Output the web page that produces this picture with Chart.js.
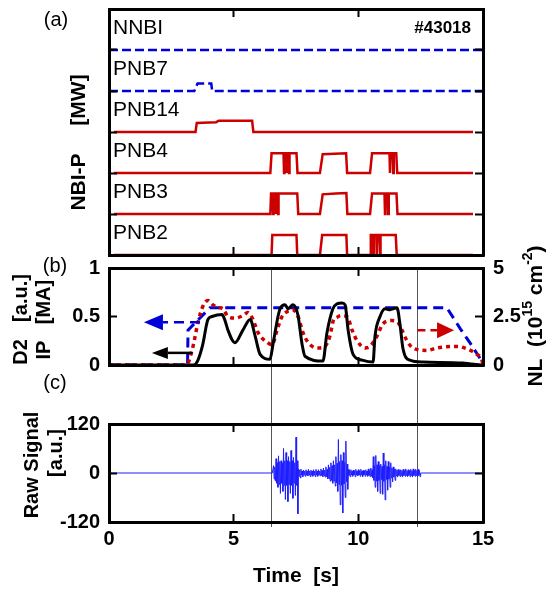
<!DOCTYPE html>
<html lang="es">
<head>
<meta charset="utf-8">
<title>#43018</title>
<script src="https://cdn.jsdelivr.net/npm/chart.js@4.4.1/dist/chart.umd.min.js"></script>
<style>
  html, body { margin: 0; padding: 0; background: #fff; }
  #contenedor { position: relative; width: 558px; height: 589px; overflow: hidden; }
  canvas { position: absolute; left: 0; }
</style>
</head>
<body>
<div id="contenedor">
  <canvas id="graficoA" width="558" height="258" style="top:0"></canvas>
  <canvas id="graficoB" width="558" height="165" style="top:230px"></canvas>
  <canvas id="graficoC" width="558" height="194" style="top:395px"></canvas>
</div>
<script>
// ---- (a) potencia NBI [MW] vs tiempo [s] ----
const filas = ["PNB2", "PNB3", "PNB4", "PNB14", "PNB7", "NNBI"];

const nnbiT = [0, 15];
const nnbiP = [0, 0];
const pnb7T = [0, 3.42, 3.55, 4.1, 4.14, 15];
const pnb7P = [0, 0, 1.8, 1.8, 0, 0];
const pnb14T = [0.2, 3.47, 3.52, 4.3, 4.4, 5.74, 5.79, 14.6];
const pnb14P = [0, 0, 2.2, 2.4, 2.75, 2.75, 0, 0];
const pnb4T = [0.2, 6.47, 6.52, 7.0, 7.02, 7.04, 7.1, 7.12, 7.14, 7.2, 7.22, 7.24, 7.52, 7.56, 8.46, 8.57, 9.51, 9.55, 10.47, 10.55, 11.25, 11.27, 11.29, 11.38, 11.4, 11.42, 11.52, 11.56, 14.6];
const pnb4P = [0, 0, 4.8, 4.8, 0, 4.8, 4.8, 0, 4.8, 4.8, 0, 4.8, 4.8, 0, 0, 4.6, 4.8, 0, 0, 4.8, 4.8, 0, 4.8, 4.8, 0, 4.8, 4.8, 0, 0];
const pnb3T = [0.2, 6.47, 6.5, 6.56, 6.58, 6.6, 6.66, 6.68, 6.7, 6.76, 6.78, 6.8, 7.55, 7.59, 8.46, 8.57, 9.1, 9.52, 9.56, 10.47, 10.55, 11.05, 11.07, 11.09, 11.18, 11.2, 11.22, 11.53, 11.57, 14.6];
const pnb3P = [0, 0, 5, 5, 0, 5, 5, 0, 5, 5, 0, 5, 5, 0, 0, 4.8, 5, 5.1, 0, 0, 5, 5, 0, 5, 5, 0, 5, 5, 0, 0];
const pnb2T = [0.2, 6.52, 6.55, 7.52, 7.55, 8.46, 8.55, 9.52, 9.55, 10.47, 10.5, 10.58, 10.6, 10.62, 10.72, 10.74, 10.76, 10.85, 10.87, 10.89, 11.5, 11.54, 14.6];
const pnb2P = [0, 0, 4.9, 4.9, 0, 0, 4.9, 4.9, 0, 0, 4.9, 4.9, 0, 4.9, 4.9, 0, 4.9, 4.9, 0, 4.9, 4.9, 0, 0];

// ---- (b) D2 [a.u.], IP [MA] (eje izq.) y NL [1e15 cm-2] (eje der.) ----
const d2T = [0, 3.4, 3.55, 3.75, 3.97, 4.13, 4.53, 4.65, 4.77, 5.05, 5.37, 5.66, 5.86, 6.06, 6.46, 6.58, 6.86, 7.06, 7.18, 7.38, 7.58, 7.74, 7.86, 8.58, 8.74, 8.98, 9.14, 9.35, 9.47, 9.59, 9.79, 10.15, 10.59, 10.67, 10.87, 11.07, 11.27, 11.55, 11.67, 11.79, 12.07, 12.59, 14.2, 14.5, 15];
const d2V = [0, 0, 0.04, 0.2, 0.47, 0.5, 0.52, 0.46, 0.36, 0.23, 0.36, 0.47, 0.3, 0.11, 0.06, 0.22, 0.58, 0.62, 0.58, 0.62, 0.51, 0.22, 0.09, 0.04, 0.33, 0.58, 0.63, 0.64, 0.62, 0.36, 0.11, 0.05, 0.03, 0.3, 0.5, 0.58, 0.57, 0.59, 0.42, 0.17, 0.05, 0.03, 0.02, 0.01, 0];
const ipT = [0, 3.15, 3.17, 4.05, 13.55, 14.1, 14.5, 14.9, 15];
const ipV = [0, 0, 0.36, 0.59, 0.59, 0.37, 0.22, 0.06, 0];
const nlT = [0, 3.1, 3.17, 3.37, 3.57, 3.77, 3.97, 4.17, 4.37, 4.57, 4.77, 5.05, 5.37, 5.57, 5.78, 5.98, 6.34, 6.54, 6.74, 6.94, 7.14, 7.38, 7.58, 7.78, 7.98, 8.34, 8.66, 8.86, 9.0, 9.14, 9.3, 9.55, 9.75, 9.95, 10.27, 10.47, 10.75, 10.99, 11.35, 11.59, 11.75, 11.95, 12.19, 12.75, 13.15, 13.96, 14.36, 14.76, 14.96, 15];
const nlV = [0, 0, 0.1, 0.96, 2.2, 3.04, 3.33, 3.1, 2.96, 2.9, 2.5, 2.42, 2.54, 2.7, 2.33, 1.67, 1.17, 1.04, 1.8, 2.5, 2.75, 2.83, 2.5, 1.67, 1.17, 0.88, 0.96, 1.5, 2.3, 2.45, 2.55, 2.5, 1.8, 1.25, 0.88, 0.96, 1.5, 2.13, 2.29, 2.2, 1.8, 1.25, 0.88, 0.75, 0.88, 0.96, 0.83, 0.54, 0.25, 0];

// ---- (c) senal cruda: picos y ancho de la banda densa, leidos cada 0.1 s ----
const rawT = [6.6, 6.7, 6.8, 6.9, 7.0, 7.1, 7.2, 7.3, 7.4, 7.5, 7.6, 7.7, 7.8, 7.9, 8.0, 8.1, 8.2, 8.3, 8.4, 8.5, 8.6, 8.7, 8.8, 8.9, 9.0, 9.1, 9.2, 9.3, 9.4, 9.5, 9.6, 9.7, 9.8, 9.9, 10.0, 10.1, 10.2, 10.3, 10.4, 10.5, 10.6, 10.7, 10.8, 10.9, 11.0, 11.1, 11.2, 11.3, 11.4, 11.5, 11.6, 11.7, 11.8, 11.9, 12.0, 12.1, 12.2, 12.3, 12.4];
const rawMax = [18, 35, 42, 30, 60, 50, 40, 55, 38, 88, 10, 9, 7, 8, 9, 7, 8, 9, 8, 10, 12, 15, 20, 25, 30, 40, 82, 45, 50, 78, 9, 8, 7, 9, 8, 9, 7, 8, 10, 12, 40, 43, 28, 22, 49, 30, 28, 25, 15, 10, 9, 8, 9, 10, 8, 9, 10, 9, 9];
const rawMin = [-20, -35, -50, -45, -65, -70, -50, -62, -55, -100, -12, -9, -8, -7, -9, -8, -9, -8, -7, -9, -10, -14, -20, -25, -32, -45, -78, -98, -60, -40, -9, -8, -9, -7, -8, -9, -8, -8, -9, -12, -35, -45, -50, -52, -66, -42, -35, -22, -18, -10, -9, -10, -8, -9, -9, -10, -8, -9, -9];
const rawNucleo = [15, 25, 28, 25, 30, 30, 28, 30, 25, 30, 8, 5, 5, 5, 5, 5, 5, 5, 5, 6, 7, 9, 14, 18, 20, 24, 28, 30, 26, 22, 6, 5, 5, 5, 5, 5, 5, 5, 6, 8, 18, 20, 18, 16, 20, 16, 15, 12, 10, 7, 6, 6, 6, 6, 6, 6, 6, 6, 6];

const tiempoLineas = [6.5, 12.35];

const FAMILIA = "'Liberation Sans', Arial, sans-serif";
const ROJO = "#cc0000";
const AZUL = "#0000d8";
const fuenteTicks = { family: FAMILIA, size: 20, weight: "bold" };

Chart.defaults.font.family = FAMILIA;
Chart.defaults.color = "#000";

function puntos(ts, vs, desplazamiento = 0, escala = 1) {
    return ts.map((t, i) => ({ x: t, y: desplazamiento + vs[i] / escala }));
}

// recorre pico, banda y valle de cada muestra para rellenar el ruido
function zigzag(ts, altos, bajos, nucleo) {
    const pts = [{ x: 0, y: 0 }, { x: ts[0] - 0.05, y: 0 }];
    ts.forEach((t, i) => {
        pts.push({ x: t, y: altos[i] });
        pts.push({ x: t + 0.025, y: -nucleo[i] });
        pts.push({ x: t + 0.05, y: nucleo[i] });
        pts.push({ x: t + 0.075, y: bajos[i] });
    });
    pts.push({ x: ts[ts.length - 1] + 0.1, y: 0 }, { x: 15, y: 0 });
    return pts;
}

function ejeX(posicion, alto, etiquetas) {
    return {
        type: "linear", position: posicion, min: 0, max: 15,
        ticks: { stepSize: 5, display: etiquetas, font: fuenteTicks, color: "#000", padding: 13, maxRotation: 0 },
        grid: { drawOnChartArea: false, tickLength: -8, tickWidth: 2, tickColor: "#000", z: 1 },
        border: { display: true, color: "#000", width: 3, z: 1 },
        afterFit: s => { s.height = alto; }
    };
}

function ejeY(posicion, min, max, paso, ancho, etiquetas, padding) {
    return {
        type: "linear", position: posicion, min: min, max: max,
        ticks: { stepSize: paso, display: etiquetas, font: fuenteTicks, color: "#000", padding: padding, callback: v => String(v) },
        grid: { drawOnChartArea: false, tickLength: -8, tickWidth: 2, tickColor: "#000", z: 1 },
        border: { display: true, color: "#000", width: 3, z: 1 },
        afterFit: s => { s.width = ancho; }
    };
}

function texto(ctx, str, x, y, fuente, alinear = "center", angulo = 0) {
    ctx.save();
    ctx.translate(x, y);
    ctx.rotate(angulo);
    ctx.font = fuente;
    ctx.fillStyle = "#000";
    ctx.textAlign = alinear;
    ctx.textBaseline = "middle";
    ctx.fillText(str, 0, 0);
    ctx.restore();
}

function flecha(ctx, xCola, xPunta, y, largo, alto, color, dash) {
    const dir = Math.sign(xPunta - xCola);
    const base = xPunta - dir * largo;
    ctx.save();
    ctx.strokeStyle = color;
    ctx.lineWidth = 2.5;
    ctx.setLineDash(dash);
    ctx.beginPath();
    ctx.moveTo(xCola, y);
    ctx.lineTo(base, y);
    ctx.stroke();
    ctx.setLineDash([]);
    ctx.fillStyle = color;
    ctx.beginPath();
    ctx.moveTo(xPunta, y);
    ctx.lineTo(base, y - alto);
    ctx.lineTo(base, y + alto);
    ctx.closePath();
    ctx.fill();
    ctx.restore();
}

function lineasVerticales(chart, y0, y1) {
    const ctx = chart.ctx;
    ctx.save();
    ctx.strokeStyle = "#555";
    ctx.lineWidth = 1;
    tiempoLineas.forEach(t => {
        const x = Math.round(chart.scales.x.getPixelForValue(t)) + 0.5;
        ctx.beginPath();
        ctx.moveTo(x, y0);
        ctx.lineTo(x, y1);
        ctx.stroke();
    });
    ctx.restore();
}

const base = {
    responsive: false,
    animation: false,
    devicePixelRatio: 1,
    layout: { padding: 0 },
    plugins: { legend: { display: false }, tooltip: { enabled: false } },
    elements: { point: { radius: 0 } }
};

// ---------- (a) ----------
const haces = [
    { t: pnb2T, p: pnb2P, fila: 0, color: ROJO, dash: [] },
    { t: pnb3T, p: pnb3P, fila: 1, color: ROJO, dash: [] },
    { t: pnb4T, p: pnb4P, fila: 2, color: ROJO, dash: [] },
    { t: pnb14T, p: pnb14P, fila: 3, color: ROJO, dash: [] },
    { t: pnb7T, p: pnb7P, fila: 4, color: AZUL, dash: [9, 4] },
    { t: nnbiT, p: nnbiP, fila: 5, color: AZUL, dash: [9, 4] }
];

new Chart(document.getElementById("graficoA"), {
    type: "line",
    data: {
        datasets: haces.map(h => ({
            label: filas[h.fila],
            data: puntos(h.t, h.p, h.fila, 10),
            borderColor: h.color,
            borderWidth: 2.5,
            borderDash: h.dash,
            tension: 0
        }))
    },
    options: {
        ...base,
        scales: {
            x: ejeX("bottom", 3, false),
            x2: ejeX("top", 9, false),
            y: ejeY("left", 0, 6, 1, 109, false, 0),
            y2: ejeY("right", 0, 6, 1, 75, false, 0)
        }
    },
    plugins: [{
        id: "textosA",
        afterDraw(chart) {
            const ctx = chart.ctx;
            const xs = chart.scales.x, ys = chart.scales.y;
            texto(ctx, "(a)", 56, 20, `20px ${FAMILIA}`);
            texto(ctx, "[MW]", 79, 100, `bold 21px ${FAMILIA}`, "center", -Math.PI / 2);
            texto(ctx, "NBI-P", 79, 182, `bold 21px ${FAMILIA}`, "center", -Math.PI / 2);
            filas.forEach((nombre, i) => {
                texto(ctx, nombre, xs.left + 4, ys.getPixelForValue(i + 0.53), `21px ${FAMILIA}`, "left");
            });
            texto(ctx, "#43018", xs.right - 12, ys.getPixelForValue(5.53), `bold 17px ${FAMILIA}`, "right");
        }
    }]
});

// ---------- (b) ----------
new Chart(document.getElementById("graficoB"), {
    type: "line",
    data: {
        datasets: [
            { label: "D2", data: puntos(d2T, d2V), yAxisID: "y", borderColor: "#000", borderWidth: 3, cubicInterpolationMode: "monotone" },
            { label: "NL", data: puntos(nlT, nlV), yAxisID: "y2", borderColor: ROJO, borderWidth: 3.5, borderDash: [4, 4], cubicInterpolationMode: "monotone" },
            { label: "IP", data: puntos(ipT, ipV), yAxisID: "y", borderColor: AZUL, borderWidth: 3, borderDash: [10, 6], tension: 0 }
        ]
    },
    options: {
        ...base,
        scales: {
            x: ejeX("bottom", 7, false),
            x2: ejeX("top", 38, false),
            y: ejeY("left", 0, 1, 0.5, 109, true, 17),
            y2: ejeY("right", 0, 5, 2.5, 75, true, 18)
        }
    },
    plugins: [{
        id: "textosB",
        beforeDatasetsDraw(chart) {
            lineasVerticales(chart, chart.chartArea.top, chart.height);
        },
        afterDraw(chart) {
            const ctx = chart.ctx;
            const xs = chart.scales.x, yI = chart.scales.y, yD = chart.scales.y2;
            const fb = `bold 20px ${FAMILIA}`;
            texto(ctx, "(b)", 55, 36, `20px ${FAMILIA}`);
            texto(ctx, "(c)", 55, 153, `20px ${FAMILIA}`);
            texto(ctx, "[a.u.]", 21, 68, fb, "center", -Math.PI / 2);
            texto(ctx, "D2", 21, 122, fb, "center", -Math.PI / 2);
            texto(ctx, "[MA]", 44, 72, fb, "center", -Math.PI / 2);
            texto(ctx, "IP", 44, 120, fb, "center", -Math.PI / 2);

            // titulo derecho con superindices
            const partes = [["NL  (10", 21, 0], ["15", 14, -8], [" cm", 21, 0], ["-2", 14, -8], [")", 21, 0]];
            ctx.save();
            ctx.translate(536, 86);
            ctx.rotate(-Math.PI / 2);
            ctx.fillStyle = "#000";
            ctx.textAlign = "left";
            ctx.textBaseline = "middle";
            let total = 0;
            partes.forEach(([s, tam]) => { ctx.font = `bold ${tam}px ${FAMILIA}`; total += ctx.measureText(s).width; });
            let cx = -total / 2;
            partes.forEach(([s, tam, dy]) => {
                ctx.font = `bold ${tam}px ${FAMILIA}`;
                ctx.fillText(s, cx, dy);
                cx += ctx.measureText(s).width;
            });
            ctx.restore();

            // flechas que indican el eje de cada curva
            flecha(ctx, xs.getPixelForValue(3.65), xs.getPixelForValue(1.4), yI.getPixelForValue(0.44), 19, 8, AZUL, [10, 6]);
            flecha(ctx, xs.getPixelForValue(3.35), xs.getPixelForValue(1.72), yI.getPixelForValue(0.125), 16, 6, "#000", []);
            flecha(ctx, xs.getPixelForValue(12.37), xs.getPixelForValue(13.84), yD.getPixelForValue(1.79), 17, 8, ROJO, [8, 5]);
        }
    }]
});

// ---------- (c) ----------
new Chart(document.getElementById("graficoC"), {
    type: "line",
    data: {
        datasets: [{
            label: "Raw Signal",
            data: zigzag(rawT, rawMax, rawMin, rawNucleo),
            borderColor: "#1e1eff",
            borderWidth: 1,
            tension: 0
        }]
    },
    options: {
        ...base,
        scales: {
            x: {
                ...ejeX("bottom", 67, true),
                title: { display: true, text: "Time  [s]", font: { family: FAMILIA, size: 21, weight: "bold" }, color: "#000", padding: 0 }
            },
            x2: ejeX("top", 6, false),
            y: ejeY("left", -120, 120, 120, 109, true, 17),
            y2: ejeY("right", -120, 120, 120, 75, false, 0)
        }
    },
    plugins: [{
        id: "textosC",
        beforeDatasetsDraw(chart) {
            lineasVerticales(chart, 0, chart.chartArea.bottom + 5);
        },
        afterDraw(chart) {
            const ctx = chart.ctx;
            const fb = `bold 20px ${FAMILIA}`;
            texto(ctx, "Raw Signal", 32, 70, fb, "center", -Math.PI / 2);
            texto(ctx, "[a.u.]", 56, 58, fb, "center", -Math.PI / 2);
        }
    }]
});
</script>
</body>
</html>
